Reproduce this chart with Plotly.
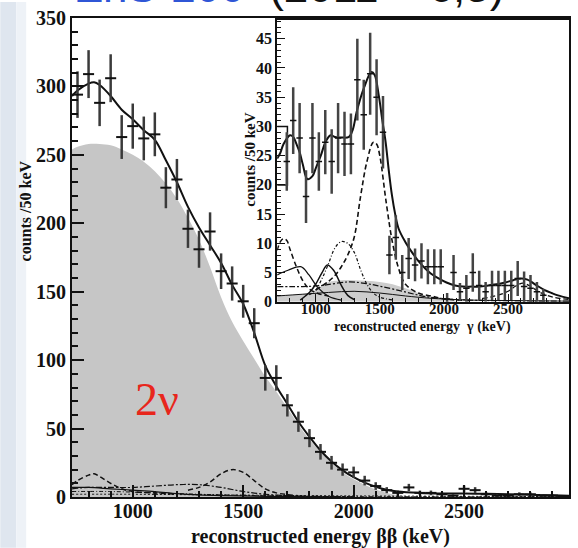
import plotly.graph_objects as go

# ---------------- main plot data (beta-beta energy) ----------------
main_x = [750, 800, 850, 900, 950, 1000, 1050, 1100, 1150, 1200, 1250, 1300, 1350, 1400,
          1450, 1500, 1550, 1600, 1650, 1700, 1750, 1800, 1850, 1900, 1950, 2000, 2050,
          2100, 2150, 2200, 2250, 2300, 2350, 2400, 2450, 2500, 2550, 2600, 2650, 2700,
          2750, 2800, 2850, 2900, 2950]
main_y = [294, 309, 288, 306, 263, 271, 262, 265, 226, 232, 196, 181, 194, 165,
          156, 143, 127, 87, 87, 67, 55, 43, 33, 25, 20, 18, 12,
          8, 5, 3, 7, 3, 3, 2, 1, 6, 5, 2, 1, 1,
          2, 2, 1, 1, 0]
main_err = [17, 17.5, 17, 17.5, 16, 16.5, 16, 16, 15, 15, 14, 13.5, 14, 13,
            12.5, 12, 11, 9.3, 9.3, 8.2, 7.4, 6.6, 5.7, 5, 4.5, 4.2, 3.5,
            2.8, 2.2, 1.7, 2.6, 1.7, 1.7, 1.4, 1, 2.4, 2.2, 1.4, 1, 1,
            1.4, 1.4, 1, 1, 0]

fit_x = [725, 750, 800, 825, 850, 900, 950, 1000, 1050, 1100, 1150, 1200, 1250, 1300,
         1350, 1400, 1450, 1500, 1550, 1600, 1650, 1700, 1750, 1800, 1850, 1900, 1950,
         2000, 2050, 2100, 2150, 2200, 2300, 2400, 2500, 2600, 2700, 2800, 2900, 2975]
fit_y = [293, 297, 302, 303, 301, 293, 283, 276, 268, 261, 246, 230, 212, 197,
         184, 171, 155, 141, 120, 96, 81, 68, 55, 44, 34, 26, 19.5,
         14.5, 10.5, 7.5, 5.3, 4, 3, 2.6, 2.5, 2.3, 2, 1.6, 1.2, 1]

twonu_x = [725, 750, 800, 850, 900, 950, 1000, 1050, 1100, 1150, 1200, 1250, 1300, 1350,
           1400, 1450, 1500, 1550, 1600, 1650, 1700, 1750, 1800, 1850, 1900, 1950, 2000,
           2050, 2100, 2150, 2200, 2250, 2300]
twonu_y = [254, 256, 258, 258, 257, 254, 250, 245, 238, 229, 218, 204, 188, 168,
           146, 128, 114, 101, 88, 77, 65, 53, 42, 33, 25, 18, 13,
           9, 5.5, 3, 1.5, 0.5, 0]

compA_x = [725, 750, 800, 825, 850, 900, 950, 1000, 1100, 1200]
compA_y = [9, 12, 16, 17, 15, 10, 6, 4, 3, 2]
compB_x = [1250, 1300, 1350, 1400, 1450, 1500, 1550, 1600, 1650, 1750]
compB_y = [5, 7, 11, 17, 20, 18, 12, 6, 3, 1]
compC_x = [725, 800, 900, 1000, 1100, 1200, 1300, 1400, 1500, 1600, 1700, 1800, 2000]
compC_y = [6, 7, 7, 7, 8, 9, 9, 7, 4, 2, 1, 0.5, 0.2]
compD_x = [725, 800, 900, 1000, 1100, 1200, 1300, 1400, 1600, 1900]
compD_y = [7, 7, 6, 5, 4, 2.5, 1.5, 1, 0.5, 0.2]
compE_x = [725, 900, 1100, 1300, 1500, 1800, 2100, 2500, 2975]
compE_y = [4, 4, 3, 2, 1.2, 0.5, 0.2, 0.1, 0.1]
compF_x = [725, 1000, 1400, 2000, 2500, 2975]
compF_y = [2, 2, 1.5, 0.8, 0.5, 0.3]

# ---------------- inset data (gamma energy) ----------------
ins_x = [775, 825, 875, 925, 975, 1025, 1075, 1125, 1175, 1225, 1275, 1325, 1375, 1425,
         1475, 1525, 1575, 1625, 1675, 1725, 1775, 1825, 1875, 1925, 1975, 2025, 2075,
         2125, 2175, 2225, 2275, 2325, 2375, 2425, 2475, 2525, 2575, 2625, 2675, 2725,
         2775]
ins_y = [24, 31, 28, 18, 28, 24, 27.3, 24, 28, 27, 27, 38, 32, 39,
         35, 29, 8, 11, 5, 7.4, 6.3, 7, 6, 6, 6, 0.5, 5,
         1.7, 2.3, 5, 2.8, 1.7, 2.8, 2.8, 2.8, 2.8, 4, 2.6, 2.3, 1.7,
         1.1]
ins_err = [5, 5.7, 6, 4.5, 6, 5, 5.5, 5.5, 6, 5.5, 5.2, 7, 6, 7,
           6.5, 6.2, 3.3, 3.8, 3, 3.5, 2.8, 3, 3, 3, 3, 1, 3,
           1.5, 2.3, 3.3, 2.5, 1.7, 2.5, 2.5, 2.5, 2.5, 3, 2.6, 2.3, 1.7,
           1.1]

ins_fit_x = [700, 725, 750, 800, 825, 850, 875, 900, 935, 975, 1000, 1040, 1080, 1117,
             1150, 1200, 1260, 1290, 1320, 1375, 1435, 1460, 1492, 1520, 1545, 1570, 1595,
             1620, 1647, 1700, 1750, 1800, 1854, 1900, 1958, 2020, 2087, 2150, 2216, 2280,
             2346, 2410, 2476, 2540, 2605, 2650, 2682, 2730, 2786, 2840, 2889, 2975]
ins_fit_y = [24.5, 25.5, 27, 28.5, 28.2, 27, 25.6, 23.5, 21, 21.5, 22.8, 25, 27.5, 28.5,
             28.2, 28.1, 28.2, 29.5, 32.5, 36.5, 39.3, 38.8, 35.3, 31, 27.4, 22.5, 18.2,
             15, 12.5, 10.2, 8.5, 7, 5.7, 4.8, 4.0, 3.3, 2.8, 2.6, 2.6, 2.6,
             2.8, 3.0, 3.3, 3.7, 4.0, 3.8, 3.4, 2.7, 2.0, 1.5, 1.1, 0.6]

ins_gray_x = [700, 850, 950, 1000, 1050, 1100, 1150, 1200, 1300, 1400, 1500, 1600, 1700,
              1800, 1900, 2000, 2100, 2200]
ins_gray_y = [1, 1.2, 1.5, 2, 2.8, 3.4, 3.6, 3.7, 3.7, 3.6, 3.4, 3, 2.3,
              1.5, 0.8, 0.3, 0.1, 0]

ins_p1_x = [700, 725, 750, 775, 800, 850, 900, 950, 1000, 1050, 1100]
ins_p1_y = [8.8, 10.3, 10.8, 10.5, 9.0, 6.0, 3.6, 2.2, 1.6, 1.2, 1.0]
ins_p2_x = [700, 785, 884, 948, 1011, 1104, 1200]
ins_p2_y = [4.6, 5.4, 6.0, 4.6, 2.6, 0.9, 0.3]
ins_p3_x = [880, 920, 960, 1000, 1050, 1091, 1140, 1200, 1250, 1300]
ins_p3_y = [0.3, 1.0, 1.8, 3.0, 5.0, 6.3, 5.4, 2.8, 1.1, 0.4]
ins_p4_x = [950, 1000, 1050, 1100, 1150, 1200, 1250, 1300, 1350, 1400, 1450, 1500, 1600]
ins_p4_y = [1.2, 2, 4, 6.5, 9.2, 10.3, 10, 8.5, 5.5, 3, 1.5, 0.8, 0.3]
ins_p5_x = [1000, 1100, 1150, 1200, 1250, 1300, 1350, 1400, 1450, 1475, 1500, 1550, 1600,
            1650, 1700, 1800, 1900, 2000, 2200]
ins_p5_y = [2, 3.5, 4.5, 6, 8, 11, 18, 24, 27.3, 27, 25, 17, 10,
            5.5, 3, 1.5, 1, 0.5, 0.2]
ins_p6_x = [2300, 2400, 2500, 2560, 2615, 2670, 2750, 2850, 2975]
ins_p6_y = [0.6, 1.0, 1.8, 2.7, 3.2, 2.7, 1.6, 0.8, 0.4]
ins_cont_x = [700, 800, 900, 1050, 1259, 1400, 1516, 1697, 1854, 2087, 2400, 2975]
ins_cont_y = [2.6, 2.6, 2.6, 2.8, 3.4, 3.1, 2.6, 1.7, 0.9, 0.4, 0.2, 0.1]
ins_low_x = [700, 900, 1100, 1300, 1500, 1700, 1900, 2200, 2600, 2975]
ins_low_y = [1.0, 1.3, 1.6, 1.8, 1.5, 1.0, 0.6, 0.3, 0.2, 0.1]
ins_box_x = [700, 780, 780, 700]
ins_box_y = [30, 30, 20, 20]

SERIF = "Liberation Serif"
BLACK = "#111111"

fig = go.Figure()

# main plot traces
fig.add_trace(go.Scatter(x=twonu_x, y=twonu_y, mode="lines", fill="tozeroy",
                         fillcolor="#c6c6c6", line=dict(width=0, shape="spline"),
                         xaxis="x", yaxis="y"))
for cx, cy, dash, w in [(compA_x, compA_y, "5px,3px", 1.5), (compB_x, compB_y, "5px,3px", 1.5),
                        (compC_x, compC_y, "6px,2px,2px,2px", 1.2), (compD_x, compD_y, "solid", 1.2),
                        (compE_x, compE_y, "4px,2px,1px,2px", 1.0), (compF_x, compF_y, "2px,2px", 1.0)]:
    fig.add_trace(go.Scatter(x=cx, y=cy, mode="lines",
                             line=dict(color=BLACK, width=w, dash=dash, shape="spline"),
                             xaxis="x", yaxis="y"))
fig.add_trace(go.Scatter(x=fit_x, y=fit_y, mode="lines",
                         line=dict(color=BLACK, width=2, shape="spline"), xaxis="x", yaxis="y"))
fig.add_trace(go.Scatter(x=main_x, y=main_y, mode="markers", marker=dict(size=1, color=BLACK),
                         error_y=dict(type="data", array=main_err, visible=True, width=0,
                                      thickness=2.5, color="#3a3a3a"),
                         error_x=dict(type="constant", value=25, visible=True, width=0,
                                      thickness=2, color=BLACK),
                         xaxis="x", yaxis="y"))

# inset traces
fig.add_trace(go.Scatter(x=ins_gray_x, y=ins_gray_y, mode="lines", fill="tozeroy",
                         fillcolor="#cdcdcd", line=dict(width=0, shape="spline"),
                         xaxis="x2", yaxis="y2"))
for cx, cy, dash, w in [(ins_p1_x, ins_p1_y, "5px,3px", 1.5), (ins_p2_x, ins_p2_y, "solid", 1.3),
                        (ins_p3_x, ins_p3_y, "solid", 1.5), (ins_p4_x, ins_p4_y, "3px,2px,1px,2px", 1.2),
                        (ins_p5_x, ins_p5_y, "5px,3px", 1.6), (ins_p6_x, ins_p6_y, "5px,3px", 1.3),
                        (ins_cont_x, ins_cont_y, "6px,2px,2px,2px", 1.2), (ins_low_x, ins_low_y, "solid", 1.0)]:
    fig.add_trace(go.Scatter(x=cx, y=cy, mode="lines",
                             line=dict(color=BLACK, width=w, dash=dash, shape="spline"),
                             xaxis="x2", yaxis="y2"))
fig.add_trace(go.Scatter(x=ins_box_x, y=ins_box_y, mode="lines",
                         line=dict(color=BLACK, width=1.5), xaxis="x2", yaxis="y2"))
fig.add_trace(go.Scatter(x=ins_fit_x, y=ins_fit_y, mode="lines",
                         line=dict(color=BLACK, width=2, shape="spline"), xaxis="x2", yaxis="y2"))
fig.add_trace(go.Scatter(x=ins_x, y=ins_y, mode="markers", marker=dict(size=1, color=BLACK),
                         error_y=dict(type="data", array=ins_err, visible=True, width=0,
                                      thickness=2.5, color="#444444"),
                         error_x=dict(type="constant", value=25, visible=True, width=0,
                                      thickness=1.5, color=BLACK),
                         xaxis="x2", yaxis="y2"))

axis_common = dict(showline=True, linecolor=BLACK, mirror=True, ticks="inside",
                   tickcolor=BLACK, showgrid=False, zeroline=False)

fig.update_layout(
    width=578, height=548,
    margin=dict(l=72, r=7, t=16, b=51),
    paper_bgcolor="white", plot_bgcolor="white",
    showlegend=False,
    xaxis=dict(domain=[0, 1], range=[725, 2975], tickvals=[1000, 1500, 2000, 2500],
               ticklen=12, tickwidth=1.5, linewidth=2, ticklabelstandoff=-5,
               minor=dict(ticks="inside", ticklen=6, dtick=100, tick0=0, tickcolor=BLACK),
               tickfont=dict(family=SERIF, size=20, color=BLACK, weight="bold"),
               anchor="y", **axis_common),
    yaxis=dict(domain=[0, 1], range=[0, 350], tickvals=[0, 50, 100, 150, 200, 250, 300, 350],
               ticklen=12, tickwidth=1.5, linewidth=2,
               minor=dict(ticks="inside", ticklen=6, dtick=10, tick0=0, tickcolor=BLACK),
               tickfont=dict(family=SERIF, size=20, color=BLACK, weight="bold"),
               anchor="x", **axis_common),
    xaxis2=dict(domain=[0.4128, 1], range=[700, 2975], tickvals=[1000, 1500, 2000, 2500],
                ticklen=8, tickwidth=1.2, linewidth=2, ticklabelstandoff=-8,
                minor=dict(ticks="inside", ticklen=4, dtick=100, tick0=0, tickcolor=BLACK),
                tickfont=dict(family=SERIF, size=15, color=BLACK, weight="bold"),
                anchor="y2", **axis_common),
    yaxis2=dict(domain=[0.4075, 0.9958], range=[0, 48.2],
                tickvals=[0, 5, 10, 15, 20, 25, 30, 35, 40, 45],
                ticklen=8, tickwidth=1.2, linewidth=2,
                minor=dict(ticks="inside", ticklen=4, dtick=1, tick0=0, tickcolor=BLACK),
                tickfont=dict(family=SERIF, size=16, color=BLACK, weight="bold"),
                anchor="x2", **axis_common),
)

# slide background strip on the left
fig.add_shape(type="rect", xref="paper", yref="paper", x0=-72/499, x1=-56/499,
              y0=-51/481, y1=1 + 16/481, fillcolor="#dfe6ef", line=dict(width=0), layer="below")
fig.add_shape(type="rect", xref="paper", yref="paper", x0=-56/499, x1=-46/499,
              y0=-51/481, y1=1 + 16/481, fillcolor="#eef2f7", line=dict(width=0), layer="below")

ann_font = dict(family=SERIF, color=BLACK, weight="bold")
fig.add_annotation(text="reconstructed energy ββ (keV)", xref="paper", yref="paper",
                   x=0.5, y=-40/481, xanchor="center", yanchor="middle", showarrow=False,
                   font=dict(size=20, **ann_font))
fig.add_annotation(text="counts /50 keV", xref="paper", yref="paper",
                   x=-47/499, y=(497 - 210)/481, xanchor="center", yanchor="middle",
                   textangle=-90, showarrow=False, font=dict(size=16, **ann_font))
fig.add_annotation(text="reconstructed energy  γ (keV)", xref="paper", yref="paper",
                   x=(424 - 72)/499, y=(497 - 326)/481, xanchor="center", yanchor="middle",
                   showarrow=False, font=dict(size=14, **ann_font))
fig.add_annotation(text="counts /50 keV", xref="paper", yref="paper",
                   x=(251 - 72)/499, y=(497 - 158)/481, xanchor="center", yanchor="middle",
                   textangle=-90, showarrow=False, font=dict(size=15, **ann_font))
fig.add_annotation(text="2ν", xref="x", yref="y", x=1108, y=71, showarrow=False,
                   xanchor="center", yanchor="middle",
                   font=dict(family=SERIF, size=46, color="#e8261c"))
# cut-off slide title at the very top
fig.add_annotation(text="<span style='color:#2f56d6'>ZnS-200</span>  (2011 + 6,5)",
                   xref="paper", yref="paper", x=(75 - 72)/499, y=1.0 + 6/481, xanchor="left",
                   yanchor="bottom", showarrow=False, borderpad=0,
                   font=dict(family="Liberation Sans", size=44, color=BLACK))

fig.write_html("out.html")
